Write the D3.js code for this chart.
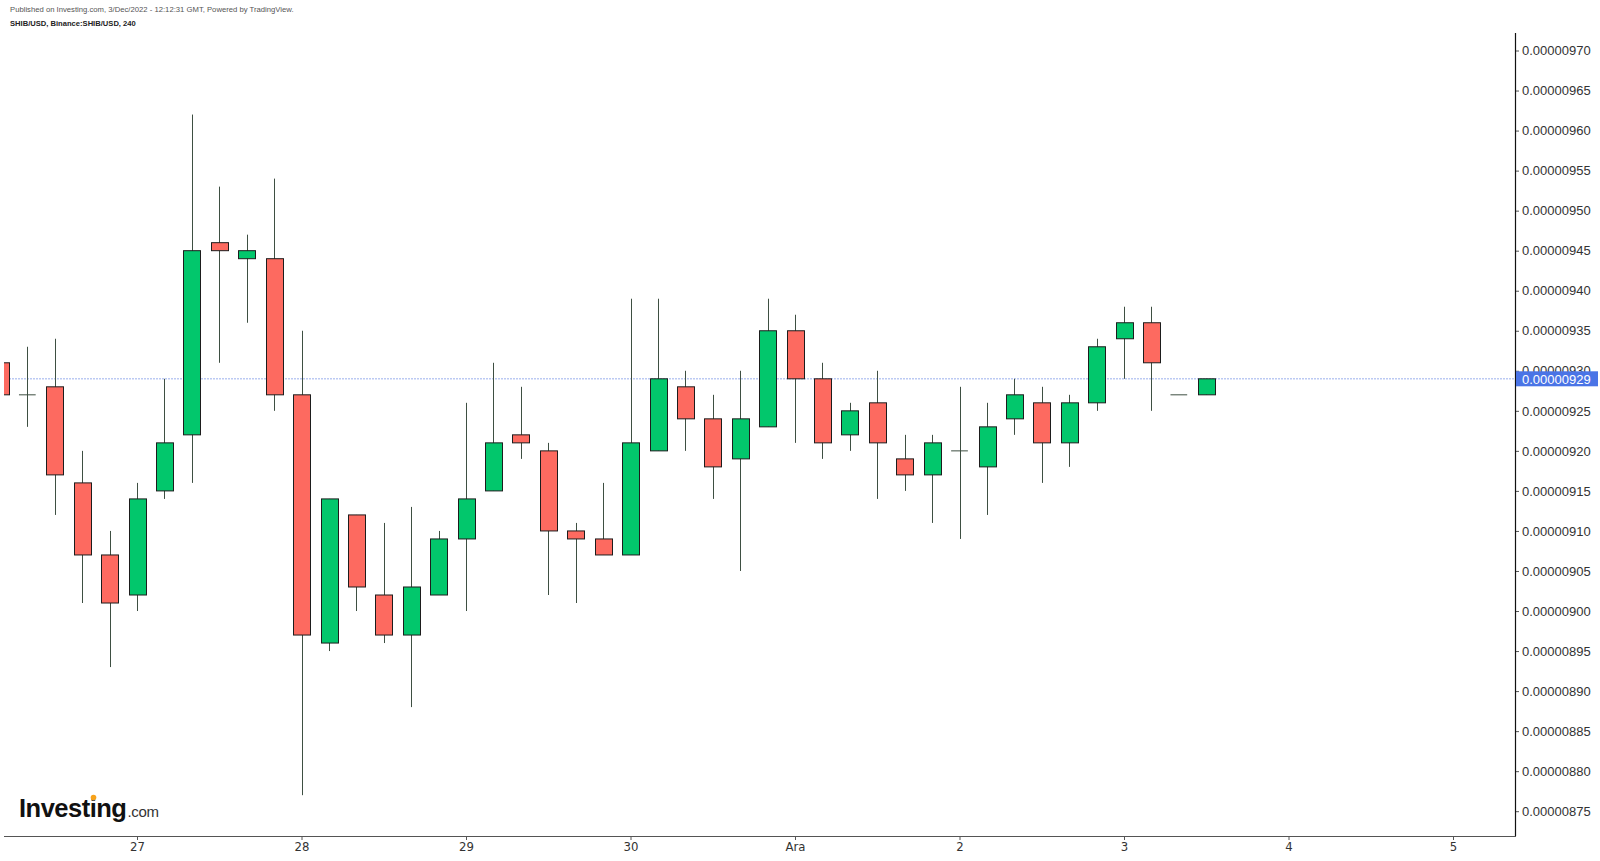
<!DOCTYPE html>
<html>
<head>
<meta charset="utf-8">
<script src="https://cdn.jsdelivr.net/npm/d3@7"></script>
<style>
  html, body { margin: 0; padding: 0; background: #fff; }
  svg { display: block; font-family: "Liberation Sans", Arial, sans-serif; }
  .yAxis text { font-size: 13px; fill: #333; }
  .xAxis text { font-family: "Liberation Sans Narrow", "Arial Narrow", "DejaVu Sans Condensed", sans-serif; font-size: 13px; fill: #333; }
  .wick { stroke: #3e4f42; stroke-width: 1; }
  .body { stroke: #1d1d1d; stroke-width: 1; }
</style>
</head>
<body>
<script>
"use strict";

// 4h candles, SHIB/USD. Prices are in 1e-8 USD (931 -> 0.00000931)
var times = [
  "2022-11-26 04:00", "2022-11-26 08:00", "2022-11-26 12:00", "2022-11-26 16:00", "2022-11-26 20:00",
  "2022-11-27 00:00", "2022-11-27 04:00", "2022-11-27 08:00", "2022-11-27 12:00", "2022-11-27 16:00", "2022-11-27 20:00",
  "2022-11-28 00:00", "2022-11-28 04:00", "2022-11-28 08:00", "2022-11-28 12:00", "2022-11-28 16:00", "2022-11-28 20:00",
  "2022-11-29 00:00", "2022-11-29 04:00", "2022-11-29 08:00", "2022-11-29 12:00", "2022-11-29 16:00", "2022-11-29 20:00",
  "2022-11-30 00:00", "2022-11-30 04:00", "2022-11-30 08:00", "2022-11-30 12:00", "2022-11-30 16:00", "2022-11-30 20:00",
  "2022-12-01 00:00", "2022-12-01 04:00", "2022-12-01 08:00", "2022-12-01 12:00", "2022-12-01 16:00", "2022-12-01 20:00",
  "2022-12-02 00:00", "2022-12-02 04:00", "2022-12-02 08:00", "2022-12-02 12:00", "2022-12-02 16:00", "2022-12-02 20:00",
  "2022-12-03 00:00", "2022-12-03 04:00", "2022-12-03 08:00", "2022-12-03 12:00"
];
var opens  = [931, 927, 928, 916, 907,  902, 915, 922, 946, 944, 944,  927, 896, 912, 902, 897, 902,
              909, 915, 922, 920, 910, 909,  907, 920, 928, 924, 919, 923,  935, 929, 922, 926, 919, 917,
              920, 918, 924, 926, 921, 926,  934, 936, 927, 927];
var highs  = [931, 933, 934, 920, 910,  916, 929, 962, 953, 947, 954,  935, 914, 912, 911, 913, 910,
              926, 931, 928, 921, 911, 916,  939, 939, 930, 927, 930, 939,  937, 931, 926, 930, 922, 922,
              928, 926, 929, 928, 927, 934,  938, 938, 927, 929];
var lows   = [927, 923, 912, 901, 893,  900, 914, 916, 931, 936, 925,  877, 895, 900, 896, 888, 902,
              900, 915, 919, 902, 901, 907,  907, 920, 920, 914, 905, 923,  921, 919, 920, 914, 915, 911,
              909, 912, 922, 916, 918, 925,  929, 925, 927, 927];
var closes = [927, 927, 917, 907, 901,  914, 921, 945, 945, 945, 927,  897, 914, 903, 897, 903, 909,
              914, 921, 921, 910, 909, 907,  921, 929, 924, 918, 924, 935,  929, 921, 925, 921, 917, 921,
              920, 923, 927, 921, 926, 933,  936, 931, 927, 929];

var lastPrice = 929;
var yTicks = [875, 880, 885, 890, 895, 900, 905, 910, 915, 920, 925, 930, 935, 940, 945, 950, 955, 960, 965, 970];
var xTickDates = ["2022-11-27", "2022-11-28", "2022-11-29", "2022-11-30", "2022-12-01", "2022-12-02", "2022-12-03", "2022-12-04", "2022-12-05"];
var xTickLabels = ["27", "28", "29", "30", "Ara", "2", "3", "4", "5"];

var width = 1600, height = 861;
var plotLeft = 4, plotRight = 1515, plotTop = 33, plotBottom = 836;

var parseTime = d3.utcParse("%Y-%m-%d %H:%M");
var parseDay = d3.utcParse("%Y-%m-%d");

var candles = times.map(function (t, i) {
  return { time: parseTime(t), open: opens[i], high: highs[i], low: lows[i], close: closes[i] };
});

var svg = d3.select("body").append("svg")
  .attr("width", width)
  .attr("height", height);

var xScale = d3.scaleUtc()
  .domain([parseDay(xTickDates[0]), parseDay(xTickDates[xTickDates.length - 1])])
  .range([137, 1453]);

var yScale = d3.scaleLinear()
  .domain([875, 970])
  .range([811.2, 50.5]);

var fmt = function (v) { return (v * 1e-8).toFixed(8); };

// header
svg.append("text")
  .attr("x", 10).attr("y", 12)
  .style("font-size", "7.7px").style("fill", "#555")
  .text("Published on Investing.com, 3/Dec/2022 - 12:12:31 GMT, Powered by TradingView.");
svg.append("text")
  .attr("x", 10).attr("y", 25.5)
  .style("font-size", "7.6px").style("font-weight", "bold").style("fill", "#222")
  .text("SHIB/USD, Binance:SHIB/USD, 240");

// clip for plot area
svg.append("clipPath").attr("id", "plotClip")
  .append("rect")
  .attr("x", plotLeft).attr("y", plotTop)
  .attr("width", plotRight - plotLeft).attr("height", plotBottom - plotTop);

// y axis
var yAxis = d3.axisRight(yScale)
  .tickValues(yTicks)
  .tickSize(4)
  .tickPadding(3)
  .tickFormat(fmt);

var yDrawn = svg.append("g")
  .attr("class", "yAxis")
  .attr("transform", "translate(" + plotRight + ",0)")
  .call(yAxis);
yDrawn.select(".domain").remove();
yDrawn.selectAll(".tick line").attr("stroke", "#555");

svg.append("line")
  .attr("x1", plotRight + 0.5).attr("x2", plotRight + 0.5)
  .attr("y1", plotTop).attr("y2", plotBottom)
  .attr("stroke", "#111").attr("stroke-width", 1.2);

// x axis
var xAxis = d3.axisBottom(xScale)
  .tickValues(xTickDates.map(function (d) { return parseDay(d); }))
  .tickSize(4)
  .tickPadding(2)
  .tickFormat(function (d, i) { return xTickLabels[i]; });

var xDrawn = svg.append("g")
  .attr("class", "xAxis")
  .attr("transform", "translate(0," + plotBottom + ")")
  .call(xAxis);
xDrawn.select(".domain").remove();
xDrawn.selectAll(".tick line").attr("stroke", "#555");

svg.append("line")
  .attr("x1", plotLeft).attr("x2", plotRight + 1)
  .attr("y1", plotBottom + 0.5).attr("y2", plotBottom + 0.5)
  .attr("stroke", "#555").attr("stroke-width", 1.2);

// last price line
var plot = svg.append("g").attr("clip-path", "url(#plotClip)");

plot.append("line")
  .attr("x1", 0).attr("x2", plotRight)
  .attr("y1", yScale(lastPrice)).attr("y2", yScale(lastPrice))
  .attr("stroke", "#bccaf3")
  .attr("stroke-width", 1.6)
  .attr("stroke-dasharray", "2,1");

// candles
var step = xScale(parseTime(times[1])) - xScale(parseTime(times[0]));
var bodyW = step * 0.61;

var candleG = plot.selectAll(".candle")
  .data(candles)
  .enter().append("g")
  .attr("class", "candle");

candleG.append("line")
  .attr("class", "wick")
  .attr("x1", function (d) { return Math.round(xScale(d.time)) + 0.5; })
  .attr("x2", function (d) { return Math.round(xScale(d.time)) + 0.5; })
  .attr("y1", function (d) { return yScale(d.high); })
  .attr("y2", function (d) { return yScale(d.low); });

candleG.filter(function (d) { return d.open !== d.close; })
  .append("rect")
  .attr("class", "body")
  .attr("x", function (d) { return Math.round(xScale(d.time) - bodyW / 2) + 0.5; })
  .attr("y", function (d) { return yScale(Math.max(d.open, d.close)); })
  .attr("width", Math.round(bodyW))
  .attr("height", function (d) { return Math.abs(yScale(d.open) - yScale(d.close)); })
  .attr("fill", function (d) { return d.close > d.open ? "#02c76c" : "#fd6a60"; });

candleG.filter(function (d) { return d.open === d.close; })
  .append("line")
  .attr("class", "wick")
  .attr("x1", function (d) { return xScale(d.time) - bodyW / 2; })
  .attr("x2", function (d) { return xScale(d.time) + bodyW / 2; })
  .attr("y1", function (d) { return yScale(d.open); })
  .attr("y2", function (d) { return yScale(d.open); })
  .attr("stroke", "#7d8a80")
  .attr("stroke-width", 1.5);

// price label on the axis (covers the 930 tick label, as in the original)
var priceBox = svg.append("g")
  .attr("transform", "translate(" + (plotRight + 1) + "," + yScale(lastPrice) + ")");
priceBox.append("rect")
  .attr("x", 0).attr("y", -7.5)
  .attr("width", 82).attr("height", 15)
  .attr("fill", "#4a74e6");
priceBox.append("text")
  .attr("x", 6).attr("y", 4.7)
  .style("font-size", "13px").style("fill", "#fff")
  .text(fmt(lastPrice));

// Investing.com logo
var logo = svg.append("g").attr("transform", "translate(19,817)");
var word = logo.append("text")
  .style("font-size", "25.5px").style("font-weight", "bold")
  .style("letter-spacing", "-0.5px").style("fill", "#111")
  .text("Investing");
var wordW = word.node().getComputedTextLength();
logo.append("text")
  .attr("x", wordW + 1)
  .style("font-size", "15px").style("fill", "#333")
  .style("letter-spacing", "-0.3px")
  .text(".com");
logo.append("circle")
  .attr("cx", 74.5).attr("cy", -19.5)
  .attr("r", 2.8)
  .attr("fill", "#f7a21b");
</script>
</body>
</html>
